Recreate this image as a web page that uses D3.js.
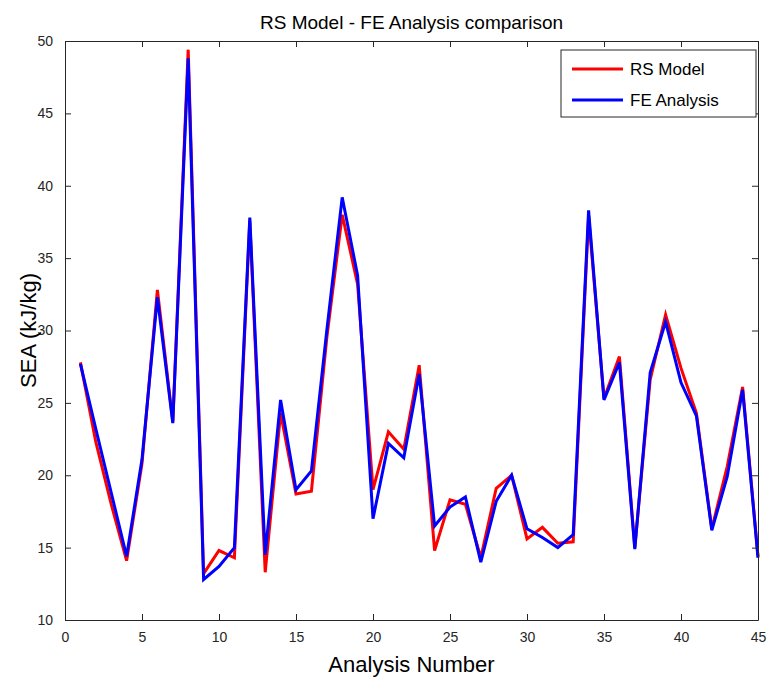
<!DOCTYPE html>
<html lang="en">
<head>
    <meta charset="UTF-8">
    <title>RS Model - FE Analysis comparison</title>
    <script src="https://d3js.org/d3.v7.min.js"></script>
    <style>
        body { margin: 0; background: #fff; }
        text { font-family: "Liberation Sans", Arial, sans-serif; }
    </style>
</head>
<body>
    <svg id="chart"></svg>
    <script>
        // analysis numbers 1..45
        const analysisNumbers = [1, 2, 3, 4, 5, 6, 7, 8, 9, 10, 11, 12, 13, 14, 15, 16, 17, 18, 19, 20, 21, 22, 23,
            24, 25, 26, 27, 28, 29, 30, 31, 32, 33, 34, 35, 36, 37, 38, 39, 40, 41, 42, 43, 44, 45];
        const rsModel = [27.8, 22.3, 18.0, 14.1, 20.8, 32.8, 23.7, 49.4, 13.2, 14.8, 14.3, 37.6, 13.3, 24.3, 18.7,
            18.9, 29.5, 38.0, 33.2, 19.0, 23.0, 21.8, 27.6, 14.8, 18.3, 18.0, 14.3, 19.1, 20.0, 15.6, 16.4, 15.3,
            15.4, 37.9, 25.3, 28.2, 15.0, 26.6, 31.1, 27.4, 24.3, 16.3, 20.6, 26.1, 14.4];
        const feAnalysis = [27.7, 23.2, 18.8, 14.4, 21.1, 32.3, 23.6, 48.8, 12.8, 13.7, 15.0, 37.8, 14.5, 25.2, 19.0,
            20.3, 30.0, 39.2, 33.8, 17.0, 22.2, 21.2, 27.0, 16.5, 17.8, 18.5, 14.0, 18.2, 20.0, 16.3, 15.7, 15.0,
            15.9, 38.3, 25.2, 27.8, 14.9, 27.1, 30.6, 26.4, 24.1, 16.2, 19.9, 25.9, 14.3];
        const xTicks = [0, 5, 10, 15, 20, 25, 30, 35, 40, 45];
        const yTicks = [10, 15, 20, 25, 30, 35, 40, 45, 50];

        const width = 767, height = 677;
        const margin = { top: 41, right: 9, bottom: 57, left: 65 };
        const axisColor = "#262626";

        const svg = d3.select("#chart").attr("width", width).attr("height", height);

        const x = d3.scaleLinear().domain([0, 45]).range([margin.left, width - margin.right]);
        const y = d3.scaleLinear().domain([10, 50]).range([height - margin.bottom, margin.top]);

        const line = d3.line().x(d => x(d[0])).y(d => y(d[1]));

        const series = [
            { name: "RS Model", color: "#ff0000", values: rsModel },
            { name: "FE Analysis", color: "#0000ff", values: feAnalysis }
        ];

        series.forEach(s => {
            svg.append("path")
                .datum(analysisNumbers.map((n, i) => [n, s.values[i]]))
                .attr("d", line)
                .attr("fill", "none")
                .attr("stroke", s.color)
                .attr("stroke-width", 3)
                .attr("stroke-linejoin", "miter");
        });

        // axes with inward ticks, box on
        function styleAxis(g) {
            g.select(".domain").attr("stroke", axisColor);
            g.selectAll(".tick line").attr("stroke", axisColor);
            g.selectAll(".tick text").attr("fill", axisColor).attr("font-size", 14)
                .attr("font-family", "Liberation Sans, Arial, sans-serif");
        }

        svg.append("g")
            .attr("transform", `translate(0,${height - margin.bottom})`)
            .call(d3.axisBottom(x).tickValues(xTicks).tickSizeInner(-6).tickSizeOuter(0).tickPadding(12))
            .call(styleAxis);
        svg.append("g")
            .attr("transform", `translate(0,${margin.top})`)
            .call(d3.axisTop(x).tickValues(xTicks).tickSizeInner(-6).tickSizeOuter(0).tickFormat(""))
            .call(styleAxis);
        svg.append("g")
            .attr("transform", `translate(${margin.left},0)`)
            .call(d3.axisLeft(y).tickValues(yTicks).tickSizeInner(-6).tickSizeOuter(0).tickPadding(12))
            .call(styleAxis);
        svg.append("g")
            .attr("transform", `translate(${width - margin.right},0)`)
            .call(d3.axisRight(y).tickValues(yTicks).tickSizeInner(-6).tickSizeOuter(0).tickFormat(""))
            .call(styleAxis);

        // title and labels
        svg.append("text")
            .attr("x", (margin.left + width - margin.right) / 2)
            .attr("y", 29)
            .attr("text-anchor", "middle")
            .attr("font-size", 19)
            .attr("fill", "#000")
            .text("RS Model - FE Analysis comparison");

        svg.append("text")
            .attr("x", (margin.left + width - margin.right) / 2)
            .attr("y", 672)
            .attr("text-anchor", "middle")
            .attr("font-size", 22)
            .attr("fill", "#000")
            .text("Analysis Number");

        svg.append("text")
            .attr("transform", `translate(36,${(margin.top + height - margin.bottom) / 2}) rotate(-90)`)
            .attr("text-anchor", "middle")
            .attr("font-size", 22)
            .attr("fill", "#000")
            .text("SEA (kJ/kg)");

        // legend
        const legend = svg.append("g").attr("transform", "translate(561,50)");
        legend.append("rect")
            .attr("width", 195).attr("height", 67)
            .attr("fill", "#fff").attr("stroke", axisColor).attr("stroke-width", 1);
        series.forEach((s, i) => {
            const yy = 19 + i * 31;
            legend.append("line")
                .attr("x1", 11).attr("x2", 62).attr("y1", yy).attr("y2", yy)
                .attr("stroke", s.color).attr("stroke-width", 3);
            legend.append("text")
                .attr("x", 69).attr("y", yy + 6)
                .attr("font-size", 17)
                .attr("fill", "#000")
                .text(s.name);
        });
    </script>
</body>
</html>
